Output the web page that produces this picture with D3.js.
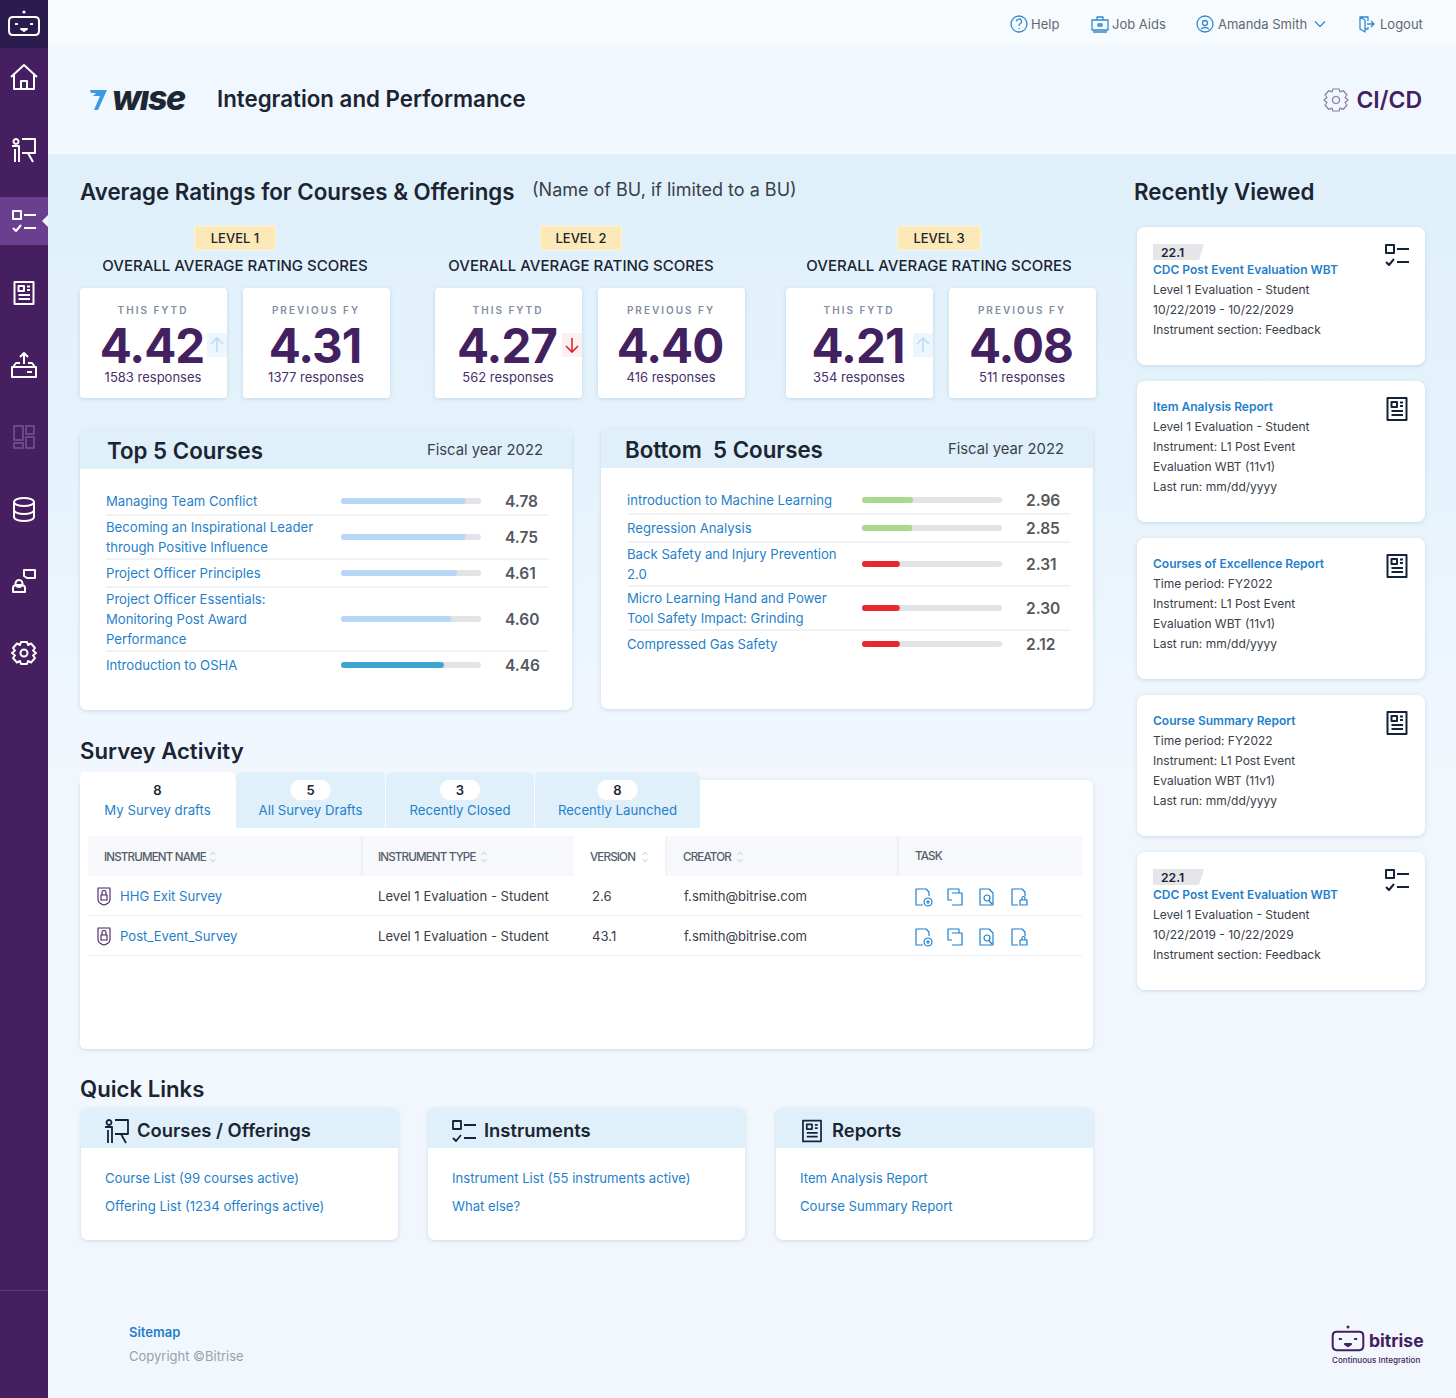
<!DOCTYPE html>
<html>
<head>
<meta charset="utf-8">
<title>Integration and Performance</title>
<script src="https://cdn.jsdelivr.net/npm/d3@7"></script>
<style>
    html, body { margin: 0; padding: 0; background: #f2f7fe; }
    svg { display: block; font-family: Inter, "Noto Sans", sans-serif; }
    text { white-space: pre; }
</style>
</head>
<body>
<div id="chart"></div>
<script>
// ratings
const levels = ["LEVEL 1", "LEVEL 2", "LEVEL 3"]
const ratingPeriods = ["THIS FYTD", "PREVIOUS FY"]
const thisFytd = [4.42, 4.27, 4.21]
const previousFy = [4.31, 4.40, 4.08]
const thisResponses = [1583, 562, 354]
const previousResponses = [1377, 416, 511]

// course lists, bar percent is read off the picture (it does not follow the score)
const topCourses = [
    ["Managing Team Conflict"],
    ["Becoming an Inspirational Leader", "through Positive Influence"],
    ["Project Officer Principles"],
    ["Project Officer Essentials:", "Monitoring Post Award", "Performance"],
    ["Introduction to OSHA"]
]
const topScores = [4.78, 4.75, 4.61, 4.60, 4.46]
const topBarPercent = [89, 89, 83, 79, 73.5]
const topBarColors = ["#b7d7f6", "#b7d7f6", "#b7d7f6", "#b7d7f6", "#3ca6d0"]

const bottomCourses = [
    ["introduction to Machine Learning"],
    ["Regression Analysis"],
    ["Back Safety and Injury Prevention", "2.0"],
    ["Micro Learning Hand and Power", "Tool Safety Impact: Grinding"],
    ["Compressed Gas Safety"]
]
const bottomScores = [2.96, 2.85, 2.31, 2.30, 2.12]
const bottomBarPercent = [36.5, 36, 27, 27, 27]
const bottomBarColors = ["#a9d98f", "#a9d98f", "#e9272e", "#e9272e", "#e9272e"]

// survey activity
const tabCounts = [8, 5, 3, 8]
const tabLabels = ["My Survey drafts", "All Survey Drafts", "Recently Closed", "Recently Launched"]
const tableHeaders = ["INSTRUMENT NAME", "INSTRUMENT TYPE", "VERSION", "CREATOR", "TASK"]
const surveyNames = ["HHG Exit Survey", "Post_Event_Survey"]
const surveyTypes = ["Level 1 Evaluation - Student", "Level 1 Evaluation - Student"]
const surveyVersions = ["2.6", "43.1"]
const surveyCreators = ["f.smith@bitrise.com", "f.smith@bitrise.com"]

// recently viewed
const recentTags = ["22.1", null, null, null, "22.1"]
const recentTitles = ["CDC Post Event Evaluation WBT", "Item Analysis Report", "Courses of Excellence Report", "Course Summary Report", "CDC Post Event Evaluation WBT"]
const recentLines = [
    ["Level 1 Evaluation - Student", "10/22/2019 - 10/22/2029", "Instrument section: Feedback"],
    ["Level 1 Evaluation - Student", "Instrument: L1 Post Event", "Evaluation WBT (11v1)", "Last run: mm/dd/yyyy"],
    ["Time period: FY2022", "Instrument: L1 Post Event", "Evaluation WBT (11v1)", "Last run: mm/dd/yyyy"],
    ["Time period: FY2022", "Instrument: L1 Post Event", "Evaluation WBT (11v1)", "Last run: mm/dd/yyyy"],
    ["Level 1 Evaluation - Student", "10/22/2019 - 10/22/2029", "Instrument section: Feedback"]
]

// quick links
const quickTitles = ["Courses / Offerings", "Instruments", "Reports"]
const quickLinks = [
    ["Course List (99 courses active)", "Offering List (1234 offerings active)"],
    ["Instrument List (55 instruments active)", "What else?"],
    ["Item Analysis Report", "Course Summary Report"]
]

const INK = "#1b2431"
const BODY = "#3a4048"
const BLUE = "#1f7fcb"
const PURPLE = "#432160"
const HEADER_BLUE = "#dff0fb"

const svg = d3.select("#chart").append("svg").attr("width", 1456).attr("height", 1398)
const defs = svg.append("defs")

const bodyGrad = defs.append("linearGradient").attr("id", "bodyGrad").attr("x1", 0).attr("x2", 0).attr("y1", 0).attr("y2", 1)
bodyGrad.append("stop").attr("offset", "0%").attr("stop-color", "#dff0fb")
bodyGrad.append("stop").attr("offset", "25%").attr("stop-color", "#e6f3fc")
bodyGrad.append("stop").attr("offset", "50%").attr("stop-color", "#f2f7fe")
bodyGrad.append("stop").attr("offset", "100%").attr("stop-color", "#f2f7fe")

defs.append("filter").attr("id", "shadow").attr("x", "-10%").attr("y", "-10%").attr("width", "120%").attr("height", "125%")
    .append("feDropShadow").attr("dx", 0).attr("dy", 1).attr("stdDeviation", 2).attr("flood-color", "#7f9fbd").attr("flood-opacity", 0.35)

function txt(parent, x, y, str, size, color, weight, anchor, spacing) {
    return parent.append("text")
        .attr("x", x).attr("y", y)
        .attr("font-size", size)
        .attr("fill", color)
        .attr("font-weight", weight || 400)
        .attr("text-anchor", anchor || "start")
        .attr("letter-spacing", spacing || null)
        .text(str)
}

function box(parent, x, y, w, h, fill, r, shadow) {
    const b = parent.append("rect").attr("x", x).attr("y", y).attr("width", w).attr("height", h).attr("fill", fill).attr("rx", r || 0)
    if (shadow) b.attr("filter", "url(#shadow)")
    return b
}

function topRoundedCard(parent, x, y, w, h, headH, r) {
    box(parent, x, y, w, h, "#fff", r, true)
    parent.append("path")
        .attr("d", `M${x},${y + headH}V${y + r}Q${x},${y} ${x + r},${y}H${x + w - r}Q${x + w},${y} ${x + w},${y + r}V${y + headH}Z`)
        .attr("fill", HEADER_BLUE)
}

// icon outlines, all centred on 0,0
const iconPaths = {
    home: "M-13,-1L0,-13L13,-1M-10,-3V11H10V-3M-3,11V3H3V11",
    courses: "M-8,-11a2.5,2.5 0 1,0 0.01,0M-12,-4H-5V12M-9,-1V12M-2,-11H11V3H-2M4,3L9,12",
    checklist: "M-11,-10H-3V-2H-11ZM0,-6H12M-11,7L-8,10L-3,4M0,7H12",
    report: "M-9.5,-11H9.5V11H-9.5ZM-5.5,-7H0V-2H-5.5ZM3,-6.5H6M3,-3H6M-5.5,2H6M-5.5,6H6",
    inbox: "M-11,1L-8,-3H-4M4,-3H8L11,1M-12,1H12V11H-12ZM0,-2V-13M-4,-9L0,-13L4,-9M3,6H8",
    dashboard: "M-10,-11H-1V3H-10ZM2,-11H10V-3H2ZM-10,6H-1V11H-10ZM2,0H10V11H2Z",
    database: "M-10,-7a10,4 0 1,0 20,0a10,4 0 1,0 -20,0M-10,-7V8a10,4 0 0,0 20,0V-7M-10,1a10,4 0 0,0 20,0",
    user: "M-5,-1a3.5,3.5 0 1,0 0.01,0M-11,11V7Q-11,4 -7,4H-3Q1,4 1,7V11ZM0,-5V-11H11V-3H3Z",
    gear: "M-3,-11H3L4,-8L7,-9.5L11,-5L9,-2.5L12,0L9,2.5L11,5L7,9.5L4,8L3,11H-3L-4,8L-7,9.5L-11,5L-9,2.5L-12,0L-9,-2.5L-11,-5L-7,-9.5L-4,-8ZM-3.5,0a3.5,3.5 0 1,0 7,0a3.5,3.5 0 1,0 -7,0",
    bot: "M-11,-8H11Q15,-8 15,-4V6Q15,10 11,10H-11Q-15,10 -15,6V-4Q-15,-8 -11,-8ZM-9,-1H-6M6,-1H9M-3,4H3L0,6Z",
    help: "M-8,0a8,8 0 1,0 16,0a8,8 0 1,0 -16,0M-2.5,-2.5a2.5,2.5 0 1,1 3.5,2.3Q0,0.5 0,2M0,4V5",
    jobAids: "M-8,-4H8V6H-8ZM-3,-4V-7H3V-4M-2,0H2V2H-2ZM-7,8H7",
    account: "M-8,0a8,8 0 1,0 16,0a8,8 0 1,0 -16,0M-2.5,-1a2.5,2.5 0 1,0 5,0a2.5,2.5 0 1,0 -5,0M-4,5Q0,2 4,5",
    chevron: "M-5,-2.5L0,2.5L5,-2.5",
    logout: "M-7,-7H1V-3M1,3V5H-2M-7,-7L-2,-4V8L-7,5ZM0,0H7M4,-3L7,0L4,3",
    lock: "M-6,-8H6V4Q6,7 0,9Q-6,7 -6,4ZM-3,-1H3V4H-3ZM-2,-1V-3.5a2,2 0 0,1 4,0V-1",
    sort: "M-2.5,-2L0,-5L2.5,-2M-2.5,2L0,5L2.5,2",
    fileAdd: "M0,8H-7V-8H3L6,-5V-1M1,5a4,4 0 1,0 8,0a4,4 0 1,0 -8,0M5,3V7M3,5H7",
    copy: "M-3,3H-7V-8H4V-4M-3,-4H7V8H-3",
    fileSearch: "M-7,8V-8H2L6,-4V8ZM-3,1a3,3 0 1,0 6,0a3,3 0 1,0 -6,0M2,3.5L5,7",
    fileLock: "M-1,8H-7V-8H3L6,-5V-1M1,3H8V8H1ZM3,3V1a1.5,1.5 0 0,1 3,0V3"
}

function icon(parent, name, x, y, color, width, scale) {
    return parent.append("path")
        .attr("transform", `translate(${x},${y}) scale(${scale || 1})`)
        .attr("d", iconPaths[name])
        .attr("fill", "none")
        .attr("stroke", color)
        .attr("stroke-width", width || 2)
        .attr("stroke-linejoin", "round")
}

// page background
box(svg, 0, 0, 1456, 44, "#f8fbfe")
box(svg, 0, 44, 1456, 109, "#f1f7fe")
svg.append("line").attr("x1", 48).attr("x2", 1456).attr("y1", 153).attr("y2", 153).attr("stroke", "#f6fafd").attr("stroke-width", 2)
box(svg, 0, 154, 1456, 1244, "url(#bodyGrad)")

// sidebar
const side = svg.append("g")
box(side, 0, 0, 48, 1398, "#451f5f")
box(side, 0, 0, 48, 48, "#2a1c4e")
box(side, 0, 197, 48, 48, "#6a3f8f")
side.append("path").attr("d", "M48,215L42,221L48,227Z").attr("fill", "#eaf5fc")
side.append("line").attr("x1", 0).attr("x2", 48).attr("y1", 1290.5).attr("y2", 1290.5).attr("stroke", "#5e3b78")
icon(side, "bot", 24, 25, "#fff", 2)
side.append("circle").attr("cx", 24).attr("cy", 12).attr("r", 1.6).attr("fill", "#fff")
const sideIcons = ["home", "courses", "checklist", "report", "inbox", "dashboard", "database", "user", "gear"]
const sideY = [78, 150, 221, 293, 366, 437, 509, 581, 653]
sideIcons.forEach((name, i) => icon(side, name, 24, sideY[i], name === "dashboard" ? "#6a4a86" : "#fff", 2))

// top bar
const nav = svg.append("g")
icon(nav, "help", 1019, 24, "#2e8bd0", 1.3)
txt(nav, 1031, 29, "Help", 13, "#5e6873")
icon(nav, "jobAids", 1100, 24, "#2e8bd0", 1.3)
txt(nav, 1112, 29, "Job Aids", 13, "#5e6873")
icon(nav, "account", 1205, 24, "#2e8bd0", 1.3)
txt(nav, 1218, 29, "Amanda Smith", 13, "#5e6873")
icon(nav, "chevron", 1320, 24, "#2e8bd0", 1.2)
icon(nav, "logout", 1367, 24, "#2e8bd0", 1.3)
txt(nav, 1380, 29, "Logout", 13, "#5e6873")

// page header
const head = svg.append("g")
head.append("path").attr("d", "M90,90H107L98,110H94L100,96H93L96,93H91Z").attr("fill", "#3b9be0")
txt(head, 112, 110, "wıse", 34, "#1d2733", 800).attr("font-style", "italic").attr("letter-spacing", -1.5)
txt(head, 217, 107, "Integration and Performance", 22.3, INK, 600)
icon(head, "gear", 1336, 100, "#8a7a9c", 1.2, 1)
txt(head, 1422, 108, "CI/CD", 23, PURPLE, 600, "end")

// average ratings
txt(svg, 80, 199.5, "Average Ratings for Courses & Offerings", 22.3, INK, 600)
txt(svg, 532, 196, "(Name of BU, if limited to a BU)", 18, BODY)
txt(svg, 1134, 199.5, "Recently Viewed", 22.3, INK, 600)

const levelCenter = [235, 581, 939]
const badgeWidth = [81, 81, 83]
const cardLeft = [[80, 243], [435, 598], [786, 949]]
// arrow against last year, drawn from the two values
const arrowX = [217, 572, 923]

levels.forEach((level, i) => {
    const g = svg.append("g")
    const cx = levelCenter[i]
    box(g, cx - badgeWidth[i] / 2, 226, badgeWidth[i], 24, "#fde9b8").attr("stroke", "#fbf3dc")
    txt(g, cx, 243, level, 13, INK, 500, "middle")
    txt(g, cx, 271, "OVERALL AVERAGE RATING SCORES", 15, INK, 500, "middle")

    const values = [thisFytd[i], previousFy[i]]
    const counts = [thisResponses[i], previousResponses[i]]
    values.forEach((v, j) => {
        const x = cardLeft[i][j]
        const mid = x + 73
        box(g, x, 288, 147, 110, "#fff", 4, true)
        txt(g, mid, 314, ratingPeriods[j], 10, "#7f8ea3", 600, "middle", 2)
        txt(g, mid - 1, 363, d3.format(".2f")(v), 47.5, PURPLE, 700, "middle", -1)
        txt(g, mid, 382, counts[j] + " responses", 13, "#47306a", 400, "middle")
    })

    const down = thisFytd[i] < previousFy[i]
    box(g, arrowX[i] - 10, 333, 20, 24, down ? "#fbf1f3" : "#eef6fd")
    const arrow = down ? "M0,-7V7M-6,1L0,7L6,1" : "M0,7V-7M-6,-1L0,-7L6,-1"
    g.append("path").attr("transform", `translate(${arrowX[i]},345)`).attr("d", arrow)
        .attr("fill", "none").attr("stroke", down ? "#e0242c" : "#bcdcf7").attr("stroke-width", 1.6)
})

// course panels
const barPercent = d3.scaleLinear().domain([0, 100]).range([0, 140])

function coursePanel(o) {
    const g = svg.append("g")
    topRoundedCard(g, o.x, o.y, 492, 280, 39, 7)
    txt(g, o.titleX, o.y + 29, o.title, 22.3, INK, 600)
    txt(g, o.x + 463, o.y + 25, "Fiscal year 2022", 14.8, BODY, 400, "end")

    let top = o.rowsTop
    o.courses.forEach((lines, i) => {
        const h = Math.max(28, lines.length * 20 + 4)
        const mid = top + h / 2
        lines.forEach((line, k) => {
            txt(g, o.textX, mid + 5 - (lines.length - 1) * 10 + k * 20, line, 13.15, BLUE)
        })
        box(g, o.barX, mid - 3, barPercent.range()[1], 6, "#e2e3e7", 3)
        box(g, o.barX, mid - 3, barPercent(o.percent[i]), 6, o.colors[i], 3)
        txt(g, o.barX + 164, mid + 5.5, d3.format(".2f")(o.scores[i]), 15.5, "#54585f", 600)
        if (i < o.courses.length - 1) {
            g.append("line").attr("x1", o.textX).attr("x2", o.textX + o.lineW)
                .attr("y1", top + h).attr("y2", top + h).attr("stroke", "#e3e5e9")
        }
        top += h
    })
}

coursePanel({ x: 80, y: 430, titleX: 107, title: "Top 5 Courses", rowsTop: 487, textX: 106, barX: 341, lineW: 443,
    courses: topCourses, scores: topScores, percent: topBarPercent, colors: topBarColors })
coursePanel({ x: 601, y: 429, titleX: 625, title: "Bottom  5 Courses", rowsTop: 486, textX: 627, barX: 862, lineW: 443,
    courses: bottomCourses, scores: bottomScores, percent: bottomBarPercent, colors: bottomBarColors })

// survey activity
txt(svg, 80, 759, "Survey Activity", 22.2, INK, 600)
const survey = svg.append("g")
box(survey, 80, 780, 1013, 269, "#fff", 6, true)

const tabX = [80, 236, 386, 535]
const tabW = [155, 149, 148, 165]
tabLabels.forEach((label, i) => {
    const cx = tabX[i] + tabW[i] / 2
    const fill = i === 0 ? "#fff" : HEADER_BLUE
    const x = tabX[i], w = tabW[i]
    survey.append("path").attr("d", `M${x},828V778Q${x},772 ${x + 6},772H${x + w - 6}Q${x + w},772 ${x + w},778V828Z`).attr("fill", fill)
    if (i > 0) box(survey, cx - 20, 780, 40, 20, "#fff", 9)
    txt(survey, cx, 795, tabCounts[i], 13, INK, 600, "middle")
    txt(survey, cx, 815, label, 13.2, BLUE, 400, "middle")
})

const headerX = [104, 378, 590, 683, 915]
const sortX = [213, 484, 645, 740]
box(survey, 88, 836, 994, 40, "#f6f8fc")
box(survey, 574, 836, 92, 40, "#fff")
const headerRule = [362, 666, 898]
headerRule.forEach(x => survey.append("line").attr("x1", x).attr("x2", x).attr("y1", 836).attr("y2", 876).attr("stroke", "#e6e9ef"))
tableHeaders.forEach((h, i) => {
    txt(survey, headerX[i], i === 4 ? 860 : 861, h, 11.6, "#555d68", 500, "start", -0.85)
    if (i < 4) icon(survey, "sort", sortX[i], 857, "#c5d0dc", 1)
})

const rowY = d3.scaleBand().domain(surveyNames).range([876, 956])
const taskIcons = ["fileAdd", "copy", "fileSearch", "fileLock"]
const taskX = d3.scalePoint().domain(taskIcons).range([923, 1019])
surveyNames.forEach((name, i) => {
    const top = rowY(name)
    const base = top + 25
    icon(survey, "lock", 104, top + 20, PURPLE, 1.1)
    txt(survey, 120, base, name, 13.1, BLUE)
    txt(survey, 378, base, surveyTypes[i], 13.1, BODY)
    txt(survey, 592, base, surveyVersions[i], 13.1, BODY)
    txt(survey, 684, base, surveyCreators[i], 13.1, BODY)
    taskIcons.forEach(t => icon(survey, t, taskX(t), top + 21, "#1f7fcb", 1.2))
    survey.append("line").attr("x1", 88).attr("x2", 1082).attr("y1", top + 39.5).attr("y2", top + 39.5).attr("stroke", "#eceff3")
})

// recently viewed
const recentTop = [227, 381, 538, 695, 852]
const recentH = [138, 141, 141, 141, 138]
recentTitles.forEach((title, i) => {
    const g = svg.append("g")
    const top = recentTop[i]
    const tag = recentTags[i]
    box(g, 1137, top, 288, recentH[i], "#fff", 8, true)
    let base = top + 30
    if (tag) {
        g.append("path").attr("d", `M1153,${top + 17}H1204L1199,${top + 33}H1153Z`).attr("fill", "#e4e6ea")
        txt(g, 1161, top + 30, tag, 12.2, INK, 600)
        base = top + 47
    }
    txt(g, 1153, base, title, 12, BLUE, 600)
    recentLines[i].forEach((line, k) => txt(g, 1153, base + 20 * (k + 1), line, 12, BODY))
    icon(g, tag ? "checklist" : "report", 1397, top + 28, "#14223a", 2)
})

// quick links
txt(svg, 80, 1097, "Quick Links", 22.2, INK, 600)
const quickX = [81, 428, 776]
const quickIcons = ["courses", "checklist", "report"]
quickTitles.forEach((title, i) => {
    const g = svg.append("g")
    const x = quickX[i]
    topRoundedCard(g, x, 1108, 317, 132, 40, 7)
    icon(g, quickIcons[i], x + 36, 1131, "#14223a", 1.8, i === 2 ? 0.95 : 1)
    txt(g, x + 56, 1137, title, 18.4, INK, 600)
    quickLinks[i].forEach((link, k) => txt(g, x + 24, 1183 + k * 28, link, 13.15, BLUE))
})

// footer
txt(svg, 129, 1337, "Sitemap", 13, BLUE, 600)
txt(svg, 129, 1361, "Copyright ©Bitrise", 13, "#9ba1a9")
icon(svg, "bot", 1348, 1340, PURPLE, 2, 1.02)
svg.append("circle").attr("cx", 1348).attr("cy", 1327).attr("r", 1.5).attr("fill", PURPLE)
txt(svg, 1369, 1347, "bitrise", 17.6, PURPLE, 700)
txt(svg, 1332, 1363, "Continuous Integration", 8.1, PURPLE, 500)
</script>
</body>
</html>
